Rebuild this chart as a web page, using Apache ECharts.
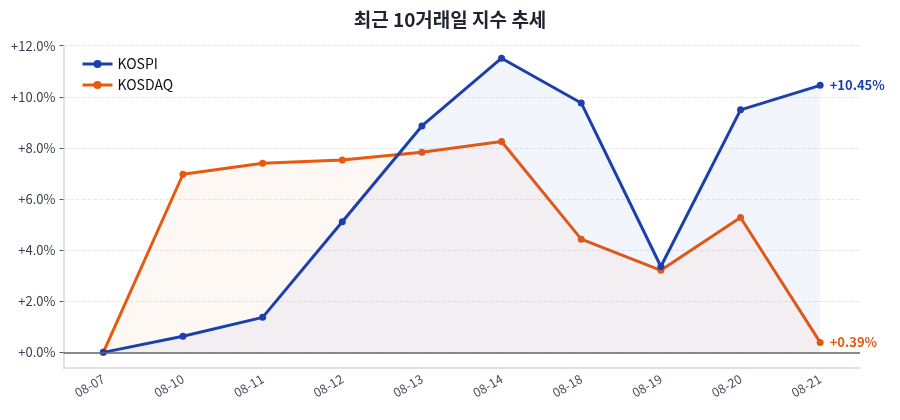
<!DOCTYPE html>
<html><head><meta charset="utf-8">
<script src="https://cdn.jsdelivr.net/npm/echarts@6/dist/echarts.min.js"></script>
<style>html,body{margin:0;padding:0;background:#fff}#c{width:900px;height:420px}</style>
</head><body><div id="c"></div>
<script>
const dates = ['08-07','08-10','08-11','08-12','08-13','08-14','08-18','08-19','08-20','08-21'];
const kospi = [0, 0.63, 1.37, 5.11, 8.86, 11.51, 9.76, 3.36, 9.49, 10.45];
const kosdaq = [0, 6.97, 7.40, 7.53, 7.83, 8.25, 4.43, 3.21, 5.28, 0.39];
const yTicks = [0, 2, 4, 6, 8, 10, 12];
const FONT = "'Noto Sans CJK KR','Noto Sans',sans-serif";
const fmt = v => (v >= 0 ? '+' : '') + v.toFixed(1) + '%';

function lastLabel(arr, color) {
  return arr.map((v, i) => i === arr.length - 1 ? {
    value: v,
    label: { show: true, position: 'right', distance: 6, color: color, fontWeight: 'bold', fontSize: 13, fontFamily: FONT,
      formatter: p => (p.value >= 0 ? '+' : '') + p.value.toFixed(2) + '%' }
  } : v);
}

const chart = echarts.init(document.getElementById('c'));
chart.setOption({
  animation: false,
  textStyle: { fontFamily: FONT },
  title: { text: '최근 10거래일 지수 추세', left: 'center', top: 5,
    textStyle: { fontSize: 19, fontWeight: 'bold', color: '#1f2430', fontFamily: FONT } },
  legend: { orient: 'vertical', left: 76, top: 52, itemGap: 7, itemWidth: 30, itemHeight: 10,
    lineStyle: { width: 3 },
    textStyle: { fontSize: 14, color: '#111', fontFamily: FONT },
    data: ['KOSPI', 'KOSDAQ'] },
  grid: { left: 63.5, right: 40, top: 45.7, bottom: 52.3, containLabel: false },
  xAxis: {
    type: 'category', data: dates, boundaryGap: true,
    axisLine: { show: true, onZero: false, lineStyle: { color: '#d5d8e0', width: 1.5 } },
    axisTick: { alignWithLabel: true, length: 4, lineStyle: { color: '#555b66' } },
    axisLabel: { rotate: 30, color: '#4a5060', fontSize: 12.5, margin: 10, fontFamily: FONT, interval: 0 },
    splitLine: { show: false }
  },
  yAxis: {
    type: 'value', min: -0.6, max: 12,
    axisLine: { show: true, lineStyle: { color: '#d5d8e0', width: 1.5 } },
    axisTick: { show: true, length: 4, customValues: yTicks, lineStyle: { color: '#555b66' } },
    axisLabel: { customValues: yTicks, formatter: fmt, color: '#3a4050', fontSize: 13, fontFamily: FONT },
    splitLine: { show: true, lineStyle: { color: '#e6e8ec', type: 'dashed' } }
  },
  series: [
    { name: 'KOSPI', type: 'line', data: lastLabel(kospi, '#1c3fae'),
      color: '#1c3fae', symbol: 'circle', symbolSize: 7, lineStyle: { width: 3 },
      areaStyle: { color: 'rgba(60,100,200,0.09)' }, z: 3,
      markLine: { silent: true, symbol: 'none', label: { show: false },
        lineStyle: { color: '#5f6375', width: 1.6, type: 'solid' }, data: [{ yAxis: 0 }] } },
    { name: 'KOSDAQ', type: 'line', data: lastLabel(kosdaq, '#e8580e'),
      color: '#e8580e', symbol: 'circle', symbolSize: 7, lineStyle: { width: 3 },
      areaStyle: { color: 'rgba(232,120,60,0.07)' }, z: 2 }
  ]
});
</script></body></html>
